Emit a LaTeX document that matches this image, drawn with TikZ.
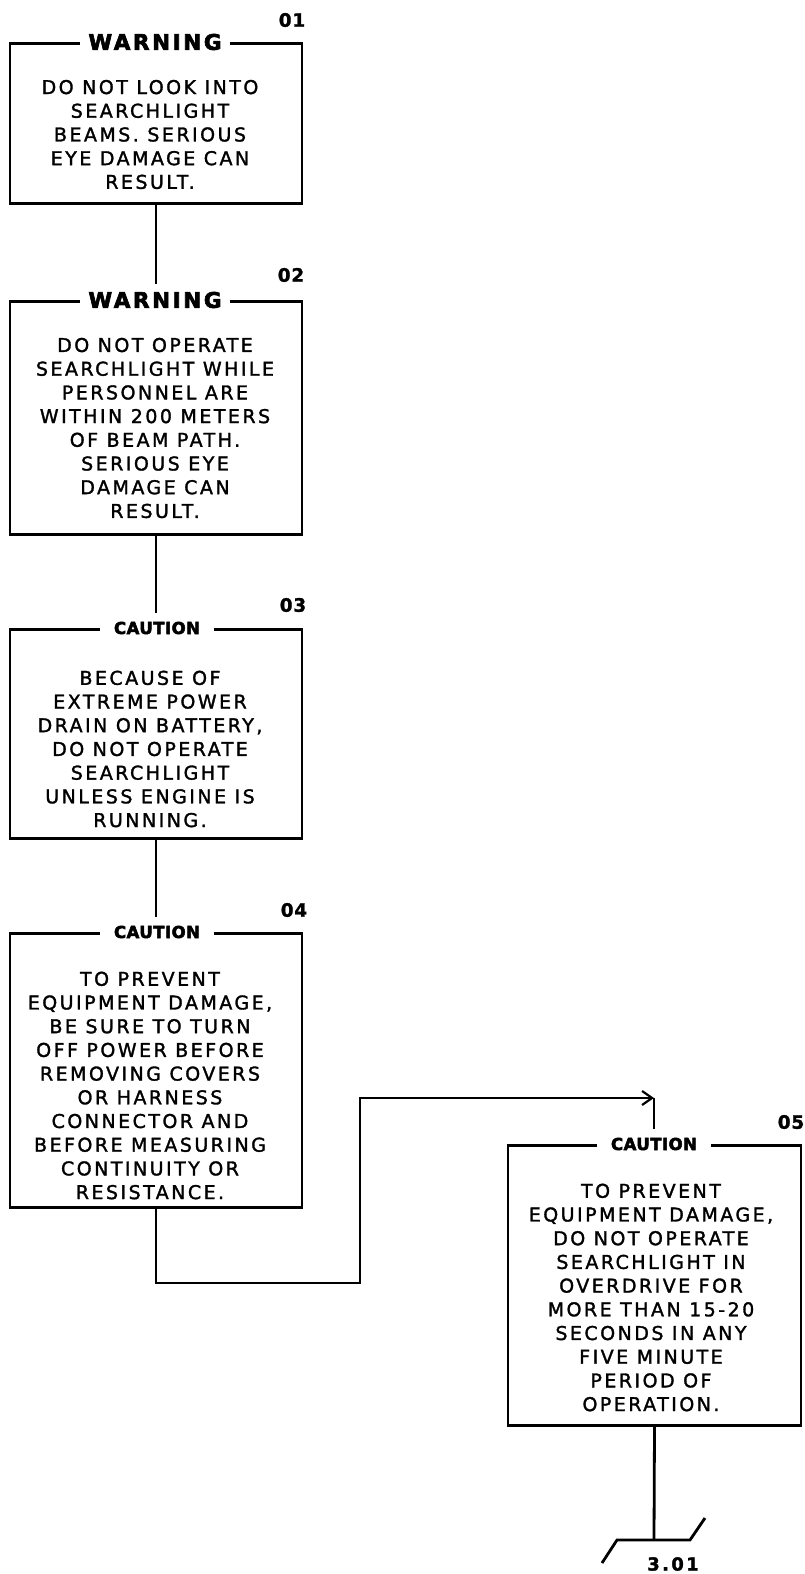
\documentclass[tikz,border=0pt]{standalone}
\usepackage{fontspec}
\setmainfont{DejaVu Sans}
\newfontfamily\bodyfont[LetterSpace=13, FakeBold=1.6]{DejaVu Sans}
\newfontfamily\warnfont[LetterSpace=12, FakeBold=3]{DejaVu Sans}
\newfontfamily\cautfont[LetterSpace=3, FakeBold=3]{DejaVu Sans}
\newfontfamily\numfont[LetterSpace=4, FakeBold=1.2]{DejaVu Sans}
\usetikzlibrary{arrows.meta}
\tikzset{
  box/.style={draw, line width=2.8pt, minimum width=292pt, inner sep=0pt, anchor=north},
  warntitle/.style={fill=white, inner xsep=8pt, inner ysep=0pt, minimum height=32pt,
    font=\warnfont\bfseries\fontsize{21.5}{21.5}\selectfont},
  cauttitle/.style={fill=white, inner xsep=14pt, inner ysep=0pt, minimum height=30pt,
    font=\cautfont\bfseries\fontsize{16.5}{16.5}\selectfont},
  body/.style={align=center, inner sep=0pt, font=\bodyfont\fontsize{19}{23.7}\selectfont},
  num/.style={inner sep=0pt, font=\numfont\bfseries\fontsize{18.5}{18.5}\selectfont},
  conn/.style={line width=2.8pt},
}
\begin{document}
\begin{tikzpicture}[x=1pt, y=-1pt]
\useasboundingbox (0,0) rectangle (804,1574);
% boxes
\node[box, minimum height=160pt] (b1) at (156,42) {};
\node[box, minimum height=233pt] (b2) at (156,300) {};
\node[box, minimum height=209pt] (b3) at (156,628) {};
\node[box, minimum height=274pt] (b4) at (156,932) {};
\node[box, minimum width=293pt, minimum height=280pt] (b5) at (654.5,1144) {};
% titles
\node[warntitle] (t1) at (155,42) {WARNING};
\node[warntitle] (t2) at (155,300) {WARNING};
\node[cauttitle] (t3) at (157,628) {CAUTION};
\node[cauttitle] (t4) at (157,932) {CAUTION};
\node[cauttitle] (t5) at (654,1144) {CAUTION};
% numbers
\node[num] (n1) at (292,20) {01};
\node[num] (n2) at (291,275) {02};
\node[num] (n3) at (293,605) {03};
\node[num] (n4) at (294,910) {04};
\node[num] (n5) at (791,1122) {05};
% body texts
\node[body] (x1) at (150,134.5) {DO NOT LOOK INTO\\SEARCHLIGHT\\BEAMS. SERIOUS\\EYE DAMAGE CAN\\RESULT.};
\node[body] (x2) at (155,428) {DO NOT OPERATE\\SEARCHLIGHT WHILE\\PERSONNEL ARE\\WITHIN 200 METERS\\OF BEAM PATH.\\SERIOUS EYE\\DAMAGE CAN\\RESULT.};
\node[body] (x3) at (150,749) {BECAUSE OF\\EXTREME POWER\\DRAIN ON BATTERY,\\DO NOT OPERATE\\SEARCHLIGHT\\UNLESS ENGINE IS\\RUNNING.};
\node[body] (x4) at (150,1085.5) {TO PREVENT\\EQUIPMENT DAMAGE,\\BE SURE TO TURN\\OFF POWER BEFORE\\REMOVING COVERS\\OR HARNESS\\CONNECTOR AND\\BEFORE MEASURING\\CONTINUITY OR\\RESISTANCE.};
\node[body] (x5) at (651,1297.5) {TO PREVENT\\EQUIPMENT DAMAGE,\\DO NOT OPERATE\\SEARCHLIGHT IN\\OVERDRIVE FOR\\MORE THAN 15-20\\SECONDS IN ANY\\FIVE MINUTE\\PERIOD OF\\OPERATION.};
% connectors
\draw[conn] (b1.south) -- (b1.south |- t2.north);
\draw[conn] (b2.south) -- (b2.south |- t3.north);
\draw[conn] (b3.south) -- (b3.south |- t4.north);
\coordinate (c1) at (360,1283);
\coordinate (c2) at (654,1098);
\draw[conn, -{Straight Barb[length=10pt,width=14pt,line width=2.2pt]}] (b4.south) |- (c1) |- (c2);
\draw[conn] (c2) -- (c2 |- t5.north);
\coordinate (c3) at (654,1540);
\coordinate (o1) at (602,1563);
\coordinate (o2) at (617,1540);
\coordinate (o3) at (690,1540);
\coordinate (o4) at (705,1518);
\draw[conn] (b5.south) -- (c3);
\draw[conn] (o1) -- (o2) -- (o3) -- (o4);
\node[num, font=\bodyfont\bfseries\fontsize{18}{18}\selectfont] (ref) at (673,1564) {3.01};
\end{tikzpicture}
\end{document}
